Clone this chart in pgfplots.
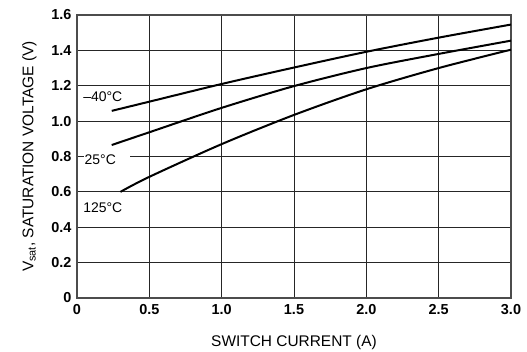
\documentclass[border=0pt]{standalone}
\usepackage{fontspec}
\setmainfont{Liberation Sans}
\usepackage{pgfplots}
\pgfplotsset{compat=1.18}

% Saturation voltage vs. switch current, one curve per junction temperature
\begin{document}
\begin{tikzpicture}
\begin{axis}[
  scale only axis,
  width=434bp, height=283bp,
  xmin=0, xmax=3, ymin=0, ymax=1.6,
  xtick={0,0.5,1,1.5,2,2.5,3},
  xticklabels={0,0.5,1.0,1.5,2.0,2.5,3.0},
  ytick={0,0.2,0.4,0.6,0.8,1.0,1.2,1.4,1.6},
  yticklabels={0,0.2,0.4,0.6,0.8,1.0,1.2,1.4,1.6},
  major tick length=0pt,
  grid=major,
  major grid style={black!85, line width=0.9bp},
  axis line style={black!70, line width=1.3bp},
  ticklabel style={font=\fontsize{14.5}{16}\selectfont\bfseries},
  xticklabel style={yshift=-3bp},
  yticklabel style={xshift=-2bp},
  xlabel={SWITCH CURRENT (A)},
  ylabel={V\textsubscript{sat}, SATURATION VOLTAGE (V)},
  label style={font=\fontsize{15.5}{17}\selectfont},
  xlabel style={yshift=-14bp},
  ylabel style={yshift=8bp},
  curve/.style={black, line width=2bp, no markers, smooth, tension=0.5},
]
% -40 C
\addplot[curve] coordinates {(0.24,1.058) (0.5,1.11) (1.0,1.21) (1.5,1.303) (2.0,1.392) (2.5,1.472) (3.0,1.546)};
% 25 C
\addplot[curve] coordinates {(0.24,0.865) (0.5,0.937) (1.0,1.075) (1.5,1.198) (2.0,1.30) (2.5,1.38) (3.0,1.455)};
% 125 C
\addplot[curve] coordinates {(0.30,0.60) (0.5,0.685) (1.0,0.87) (1.5,1.035) (2.0,1.18) (2.5,1.30) (3.0,1.404)};

\node[anchor=west, inner sep=1bp, font=\fontsize{14}{16}\selectfont] at (axis cs:0.035,1.137) {–40°C};
\node[anchor=west, inner sep=1bp, fill=white, text width=44bp, font=\fontsize{14}{16}\selectfont] at (axis cs:0.045,0.78) {25°C};
\node[anchor=west, inner sep=1bp, font=\fontsize{14}{16}\selectfont] at (axis cs:0.035,0.509) {125°C};

\coordinate (ll) at (rel axis cs:0,0);
\coordinate (ur) at (rel axis cs:1,1);
\end{axis}
\pgfresetboundingbox
\path[use as bounding box] ([shift={(-77bp,-54bp)}]ll) rectangle ([shift={(16bp,15bp)}]ur);
\end{tikzpicture}
\end{document}
